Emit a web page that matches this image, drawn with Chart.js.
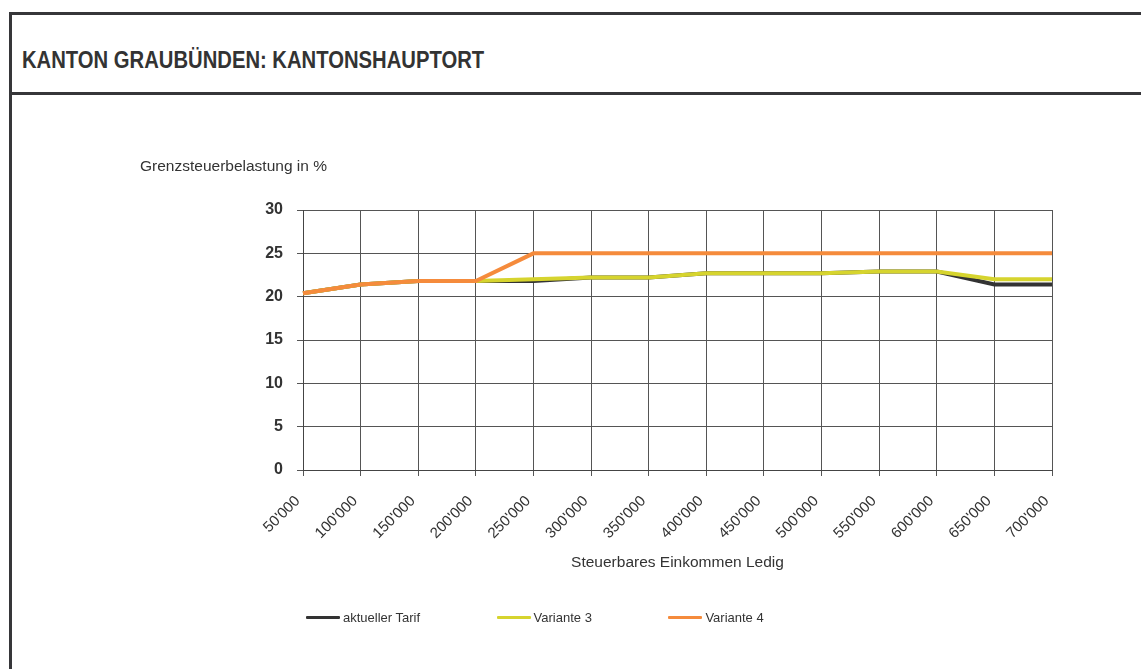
<!DOCTYPE html>
<html lang="de">
<head>
    <meta charset="UTF-8">
    <title>Kanton Graubünden: Kantonshauptort</title>
    <style>
        html, body { margin: 0; padding: 0; background: #fff; }
        body { width: 1141px; height: 669px; position: relative; overflow: hidden; font-family: "Liberation Sans", Arial, sans-serif; }
        .rule { position: absolute; background: #363639; }
        #heading {
            position: absolute; left: 22px; top: 49px; margin: 0;
            font-size: 23px; line-height: 23px; font-weight: bold; color: #333;
            transform: scaleX(0.88); transform-origin: left top; white-space: nowrap;
        }
        #myCanvas { position: absolute; left: 0; top: 0; }
        #legend {
            position: absolute; left: 306px; top: 607px; height: 20px;
            display: flex; align-items: center; gap: 76.5px;
            font-size: 13px; color: #333;
        }
        #legend .item { display: flex; align-items: center; }
        #legend .swatch { width: 34px; height: 3px; margin-right: 3px; border-radius: 1px; }
    </style>
</head>
<body>
    <div class="rule" style="left:9px;top:12px;width:1132px;height:3px"></div>
    <div class="rule" style="left:9px;top:12px;width:3px;height:657px"></div>
    <div class="rule" style="left:9px;top:92px;width:1132px;height:3px"></div>
    <h1 id="heading">KANTON GRAUBÜNDEN: KANTONSHAUPTORT</h1>

    <canvas id="myCanvas" width="1141" height="669"></canvas>
    <div id="legend"></div>

    <script src="https://cdn.jsdelivr.net/npm/chart.js@4.4.1/dist/chart.umd.min.js"></script>
    <script>
        // Steuerbares Einkommen (Ledig)
        const einkommen = ["50'000", "100'000", "150'000", "200'000", "250'000", "300'000", "350'000",
                           "400'000", "450'000", "500'000", "550'000", "600'000", "650'000", "700'000"];

        // Grenzsteuerbelastung in %
        const aktuellerTarif = [20.4, 21.4, 21.8, 21.8, 21.8, 22.2, 22.2, 22.7, 22.7, 22.7, 22.9, 22.9, 21.4, 21.4];
        const variante3      = [20.4, 21.4, 21.8, 21.8, 22.0, 22.2, 22.2, 22.7, 22.7, 22.7, 22.9, 22.9, 22.0, 22.0];
        const variante4      = [20.4, 21.4, 21.8, 21.8, 25, 25, 25, 25, 25, 25, 25, 25, 25, 25];

        const yTicks = [0, 5, 10, 15, 20, 25, 30];

        const FONT = '"Liberation Sans", Arial, sans-serif';
        Chart.defaults.font.family = FONT;
        Chart.defaults.color = '#333';

        function line(label, data, color, order) {
            return {
                label: label,
                data: data,
                borderColor: color,
                backgroundColor: color,
                borderWidth: 4,
                pointRadius: 0,
                tension: 0,
                order: order
            };
        }

        const ctx = document.getElementById('myCanvas').getContext('2d');
        const myChart = new Chart(ctx, {
            type: 'line',
            data: {
                labels: einkommen,
                datasets: [
                    line('aktueller Tarif', aktuellerTarif, '#333333', 3),
                    line('Variante 3', variante3, '#d6d42e', 2),
                    line('Variante 4', variante4, '#f58b3c', 1)
                ]
            },
            options: {
                responsive: false,
                animation: false,
                layout: { padding: { left: 140, top: 157.7, right: 89, bottom: 0 } },
                plugins: {
                    legend: { display: false },
                    tooltip: { enabled: false },
                    title: {
                        display: true,
                        text: 'Grenzsteuerbelastung in %',
                        align: 'start',
                        color: '#333',
                        font: { size: 15.5, weight: 'normal' },
                        padding: { top: 0, bottom: 33.7 }
                    }
                },
                scales: {
                    x: {
                        offset: false,
                        grid: { color: '#555', tickLength: 6 },
                        border: { color: '#444' },
                        ticks: {
                            autoSkip: false,
                            minRotation: 45,
                            maxRotation: 45,
                            padding: 11,
                            color: '#333',
                            font: { size: 15 },
                            // en space keeps the label end a little off the tick, as in the original
                            callback: function (v, i) { return this.getLabelForValue(v) + '\u2002'; }
                        },
                        title: {
                            display: true,
                            text: 'Steuerbares Einkommen Ledig',
                            color: '#333',
                            font: { size: 15.5 },
                            padding: { top: 0, bottom: 96.7 }
                        },
                        afterFit: s => { s.height = 199; }
                    },
                    y: {
                        min: 0,
                        max: 30,
                        afterBuildTicks: s => { s.ticks = yTicks.map(v => ({ value: v })); },
                        grid: { color: '#555', tickLength: 6 },
                        border: { color: '#444' },
                        ticks: {
                            padding: 14,
                            color: '#333',
                            font: { size: 16, weight: 'bold' }
                        },
                        afterFit: s => { s.width = 163; }
                    }
                }
            }
        });

        // legend as html, taken from the chart's datasets
        const legendBox = document.getElementById('legend');
        myChart.data.datasets.forEach(ds => {
            const item = document.createElement('div');
            item.className = 'item';
            const sw = document.createElement('span');
            sw.className = 'swatch';
            sw.style.background = ds.borderColor;
            const txt = document.createElement('span');
            txt.textContent = ds.label;
            item.appendChild(sw);
            item.appendChild(txt);
            legendBox.appendChild(item);
        });
    </script>
</body>
</html>
